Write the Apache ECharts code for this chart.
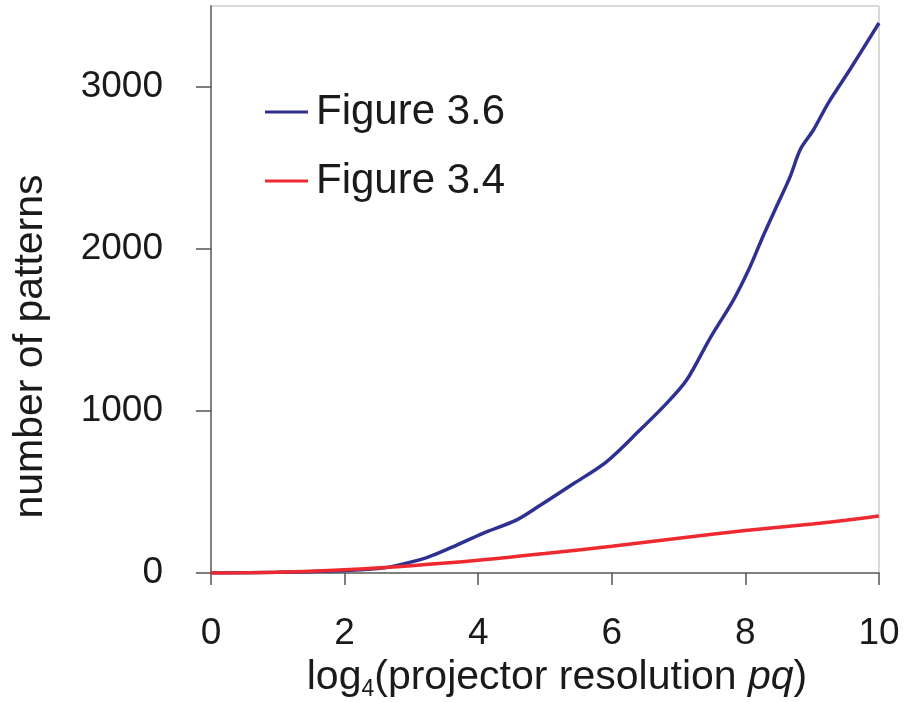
<!DOCTYPE html>
<html>
<head>
<meta charset="utf-8">
<script src="https://cdn.jsdelivr.net/npm/echarts@6/dist/echarts.min.js"></script>
<style>
  html, body { margin: 0; padding: 0; background: #fff; }
  #main { width: 906px; height: 702px; }
</style>
</head>
<body>
<div id="main"></div>
<script>
// values
var seriesNames = ['Figure 3.6', 'Figure 3.4'];
var xBlue = [0, 1, 2, 2.5, 2.72, 3.23, 3.62, 4.07, 4.57, 4.93, 5.43, 5.92, 6.42, 6.82, 7.12, 7.47, 7.82, 8.07, 8.24, 8.42, 8.67, 8.82, 9.02, 9.24, 9.57, 10];
var yBlue = [0, 4, 15, 28, 41, 95, 161, 245, 326, 418, 552, 686, 882, 1047, 1191, 1449, 1685, 1891, 2056, 2221, 2447, 2613, 2736, 2901, 3111, 3395];
var xRed = [0, 1, 2, 3, 4, 5, 6, 7, 8, 9, 9.5, 10];
var yRed = [0, 5, 20, 45, 78, 120, 165, 215, 262, 302, 325, 352];
var xTicks = [0, 2, 4, 6, 8, 10];
var yTicks = [0, 1000, 2000, 3000];

function pairs(xs, ys) {
    var out = [];
    for (var i = 0; i < xs.length; i++) out.push([xs[i], ys[i]]);
    return out;
}

var chart = echarts.init(document.getElementById('main'));
var font = 'Liberation Sans, Arial, sans-serif';

var option = {
    backgroundColor: '#fff',
    animation: false,
    grid: {
        left: 211, right: 27, top: 6, bottom: 129,
        outerBoundsMode: 'none',
        show: true, borderColor: '#b5b5b5', borderWidth: 1
    },
    legend: {
        orient: 'vertical',
        left: 260,
        top: 86,
        itemWidth: 43,
        itemHeight: 3,
        itemGap: 27,
        icon: 'rect',
        textStyle: { fontFamily: font, fontSize: 42, color: '#1a1a1a', padding: [0, 0, 0, 3] },
        data: seriesNames
    },
    xAxis: {
        type: 'value',
        min: 0, max: 10, interval: 2,
        name: '{a|log}{s|4}{a|(projector resolution }{i|pq}{a|)}',
        nameLocation: 'middle',
        nameGap: 70,
        nameTextStyle: {
            padding: [0, 0, 0, 24],
            rich: {
                a: { fontFamily: font, fontSize: 41, color: '#1a1a1a' },
                s: { fontFamily: font, fontSize: 23, color: '#1a1a1a', padding: [24, 0, 0, 0] },
                i: { fontFamily: font, fontSize: 41, fontStyle: 'italic', color: '#1a1a1a' }
            }
        },
        axisLine: { lineStyle: { color: '#808080', width: 2 } },
        axisTick: { show: true, length: 12, lineStyle: { color: '#555', width: 1.5 }, customValues: xTicks },
        axisLabel: { fontFamily: font, fontSize: 37, color: '#1a1a1a', margin: 42, customValues: xTicks },
        splitLine: { show: false }
    },
    yAxis: {
        type: 'value',
        min: 0, max: 3500, interval: 500,
        name: 'number of patterns',
        nameLocation: 'middle',
        nameRotate: 90,
        nameGap: 160,
        nameTextStyle: { fontFamily: font, fontSize: 41, color: '#1a1a1a', padding: [0, 114, 0, 0] },
        axisLine: { show: true, lineStyle: { color: '#808080', width: 2 } },
        axisTick: { show: true, length: 15, lineStyle: { color: '#555', width: 1.5 }, customValues: yTicks },
        axisLabel: {
            fontFamily: font, fontSize: 37, color: '#1a1a1a', margin: 48, customValues: yTicks,
            formatter: function (v) { return String(v); }
        },
        splitLine: { show: false }
    },
    series: [
        {
            name: seriesNames[0],
            type: 'line',
            data: pairs(xBlue, yBlue),
            smooth: 0.3,
            showSymbol: false,
            color: '#2d3192',
            lineStyle: { color: '#2d3192', width: 3.5 },
            z: 2
        },
        {
            name: seriesNames[1],
            type: 'line',
            data: pairs(xRed, yRed),
            smooth: 0.3,
            showSymbol: false,
            color: '#ee2a30',
            lineStyle: { color: '#ee2a30', width: 3.5 },
            z: 3
        }
    ]
};
chart.setOption(option);
</script>
</body>
</html>
